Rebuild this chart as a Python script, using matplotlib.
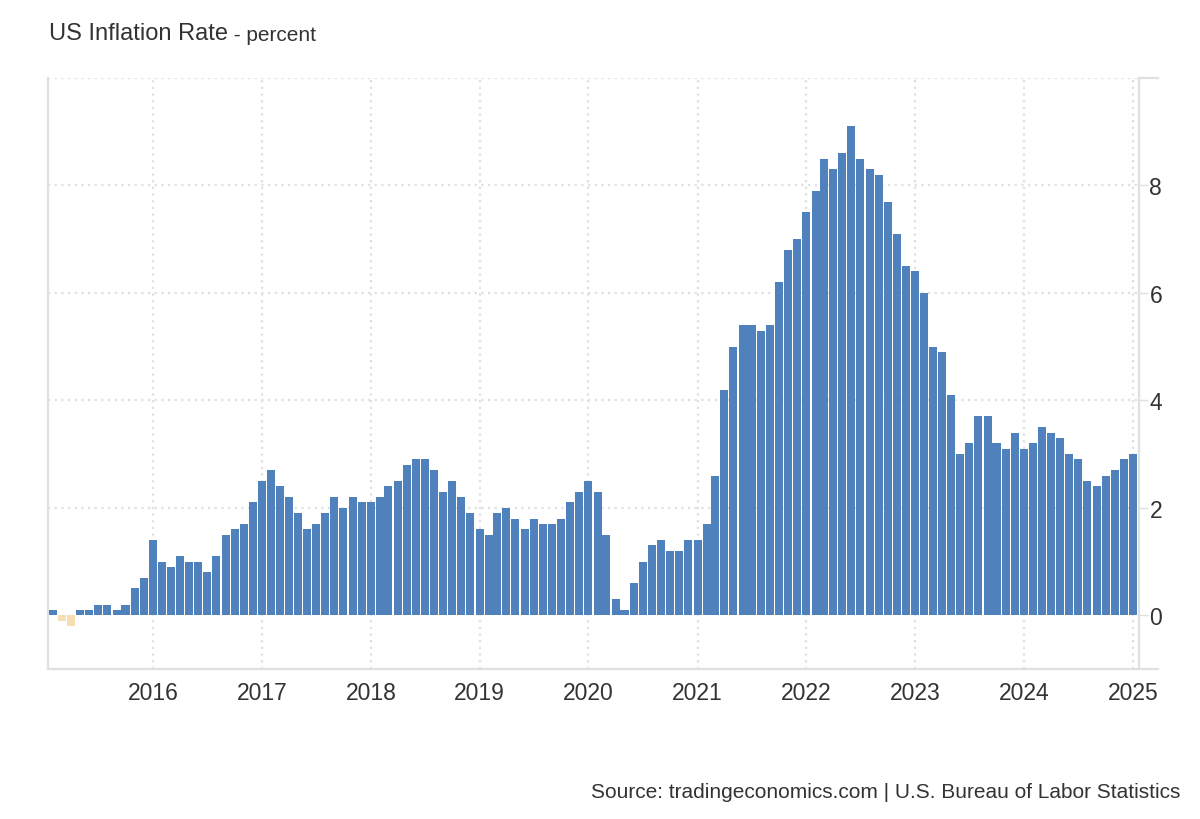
import numpy as np
import pandas as pd
import matplotlib
matplotlib.use("Agg")
import matplotlib.pyplot as plt
import matplotlib.dates as mdates

plt.rcParams['font.family'] = ['Liberation Sans', 'DejaVu Sans']

## monthly US CPI, yoy percent, Feb 2015 .. Jan 2025
start = "2015-02-01"
v2015 = [0.1, -0.1, -0.2, 0.1, 0.1, 0.2, 0.2, 0.1, 0.2, 0.5, 0.7]
v2016 = [1.4, 1.0, 0.9, 1.1, 1.0, 1.0, 0.8, 1.1, 1.5, 1.6, 1.7, 2.1]
v2017 = [2.5, 2.7, 2.4, 2.2, 1.9, 1.6, 1.7, 1.9, 2.2, 2.0, 2.2, 2.1]
v2018 = [2.1, 2.2, 2.4, 2.5, 2.8, 2.9, 2.9, 2.7, 2.3, 2.5, 2.2, 1.9]
v2019 = [1.6, 1.5, 1.9, 2.0, 1.8, 1.6, 1.8, 1.7, 1.7, 1.8, 2.1, 2.3]
v2020 = [2.5, 2.3, 1.5, 0.3, 0.1, 0.6, 1.0, 1.3, 1.4, 1.2, 1.2, 1.4]
v2021 = [1.4, 1.7, 2.6, 4.2, 5.0, 5.4, 5.4, 5.3, 5.4, 6.2, 6.8, 7.0]
v2022 = [7.5, 7.9, 8.5, 8.3, 8.6, 9.1, 8.5, 8.3, 8.2, 7.7, 7.1, 6.5]
v2023 = [6.4, 6.0, 5.0, 4.9, 4.1, 3.0, 3.2, 3.7, 3.7, 3.2, 3.1, 3.4]
v2024 = [3.1, 3.2, 3.5, 3.4, 3.3, 3.0, 2.9, 2.5, 2.4, 2.6, 2.7, 2.9]
v2025 = [3.0]

values = np.array(v2015 + v2016 + v2017 + v2018 + v2019 + v2020 +
                  v2021 + v2022 + v2023 + v2024 + v2025)
dates = pd.date_range(start, periods=len(values), freq="MS")

year_ticks = pd.date_range("2016-01-01", "2025-01-01", freq="YS")
year_labels = [str(d.year) for d in year_ticks]
y_ticks = [0, 2, 4, 6, 8]

blue = "#4f81bd"
beige = "#f5deb3"
txt = "#333333"
line_c = "#e0e0e0"

fig = plt.figure(figsize=(12, 8.2), dpi=100, facecolor='w')
ax = fig.add_axes([48/1200, 1-670/820, (1139-48)/1200, (670-79)/820])

colors = [blue if v >= 0 else beige for v in values]
ax.bar(dates, values, width=27, color=colors, linewidth=0, zorder=3,
       antialiased=False)

ax.set_xlim(pd.Timestamp("2015-01-14"), pd.Timestamp("2025-01-21"))
ax.set_ylim(-1, 10)

ax.set_xticks(year_ticks)
ax.set_xticklabels(year_labels)
ax.set_yticks(y_ticks)
ax.yaxis.tick_right()
ax.tick_params(axis='x', length=0, pad=9, labelsize=16.5, labelcolor=txt)
ax.tick_params(axis='y', length=6.5, width=1, color=line_c, pad=1,
               labelsize=16.5, labelcolor=txt)
for lab in ax.get_yticklabels():
    lab.set_horizontalalignment('left')

# dotted grid, incl. the top line at 10
for d in year_ticks:
    ax.axvline(d, color=line_c, lw=1.6, ls=(0, (1, 2)), zorder=1)
for y in [2, 4, 6, 8, 10]:
    ax.axhline(y, color=line_c, lw=1.6, ls=(0, (1, 2)), zorder=1)

for s in ['left', 'bottom', 'right']:
    ax.spines[s].set_color(line_c)
    ax.spines[s].set_linewidth(1.6)
ax.spines['top'].set_visible(False)
ax.plot([1, 1.0175], [0, 0], transform=ax.transAxes, color=line_c, lw=1.6, clip_on=False)
ax.plot([1, 1.0175], [1, 1], transform=ax.transAxes, color=line_c, lw=1.6, clip_on=False)

t1 = fig.text(49/1200, 1-40/820, "US Inflation Rate", fontsize=17, color=txt,
              ha='left', va='baseline')
ax.annotate(" - percent", xy=(1, 0), xycoords=t1, fontsize=15, color=txt,
            ha='left', va='bottom')

fig.text(1180/1200, 1-798/820,
         "Source: tradingeconomics.com | U.S. Bureau of Labor Statistics",
         fontsize=15, color=txt, ha='right', va='baseline')

plt.savefig("out.png", dpi=100, facecolor='w')
